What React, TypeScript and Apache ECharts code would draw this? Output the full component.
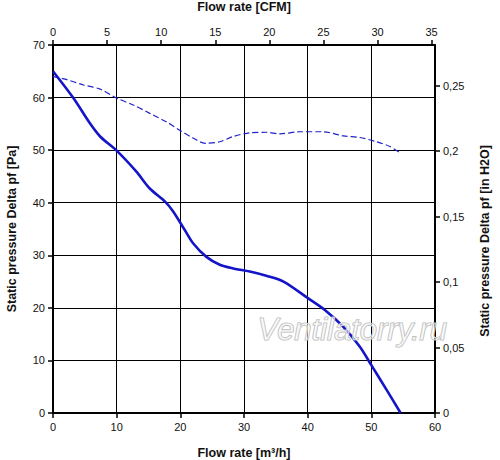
import React, { useEffect, useRef } from "react";
import * as echarts from "echarts";

const flowSolid = [0, 3.2, 5.8, 7.4, 10, 13.1, 15.2, 17.6, 18.9, 20.7, 22.0, 24.1, 26.2, 28.3, 30.9, 33.5, 36.2, 40.1, 42.7, 45.6, 48.2, 50.0, 52.4, 54.6];
const pressureSolid = [65, 59.9, 55.1, 52.6, 49.9, 45.9, 42.7, 40.2, 38.3, 34.8, 32.3, 29.7, 28.2, 27.5, 26.9, 26.1, 25.0, 21.8, 19.6, 16.4, 12.6, 9.1, 4.4, 0];
const flowDashed = [0, 1.9, 4.8, 7.4, 10, 12.6, 15.2, 17.8, 19.9, 22.0, 23.9, 26.2, 28.3, 30.9, 33.5, 35.6, 38.8, 42.4, 45.6, 48.2, 50.8, 52.9, 54.6];
const pressureDashed = [64, 63.5, 62.4, 61.6, 59.9, 58.6, 57.0, 55.4, 53.8, 52.3, 51.3, 51.6, 52.6, 53.3, 53.4, 53.1, 53.5, 53.5, 52.7, 52.4, 51.6, 50.7, 49.4];
const cfmInterval = 5;
const inH2OInterval = 0.05;

const M3H_PER_CFM = 1.699;
const PA_PER_INH2O = 249.089;

export default function App() {
  const ref = useRef<HTMLDivElement>(null);
  useEffect(() => {
    if (!ref.current) return;
    const chart = echarts.init(ref.current, null, { renderer: "svg" });
    const font = "'Liberation Sans', Arial, sans-serif";
    const mkLine = () => ({ show: true, onZero: false, lineStyle: { color: "#000", width: 2 } });
    const mkTick = () => ({ show: true, inside: false, length: 5, lineStyle: { color: "#000", width: 1.5 } });
    const label = { color: "#111", fontSize: 11, fontFamily: font };
    const nameStyle = { color: "#111", fontSize: 12.5, fontWeight: "bold" as const, fontFamily: font };
    const gridRect = { left: 53, right: 65, top: 45, bottom: 47, containLabel: false, outerBoundsMode: "none" };
    chart.setOption({
      animation: false,
      backgroundColor: "#fff",
      grid: [{ ...gridRect }, { ...gridRect }],
      xAxis: [
        {
          type: "value", gridIndex: 0, position: "bottom", min: 0, max: 60, interval: 10,
          name: "Flow rate [m³/h]", nameLocation: "middle", nameGap: 33, nameTextStyle: nameStyle,
          axisLine: mkLine(), axisTick: mkTick(), axisLabel: { ...label, margin: 8 },
          splitLine: { show: true, lineStyle: { color: "#000", width: 1 } },
        },
        {
          type: "value", gridIndex: 0, position: "top", min: 0, max: 60 / M3H_PER_CFM, interval: cfmInterval,
          name: "Flow rate [CFM]", nameLocation: "middle", nameGap: 32, nameTextStyle: nameStyle,
          axisLine: mkLine(), axisTick: mkTick(),
          axisLabel: { ...label, margin: 8, showMaxLabel: false },
          splitLine: { show: false },
        },
        {
          type: "value", gridIndex: 1, position: "bottom", min: 0, max: 60, show: false,
        },
      ],
      yAxis: [
        {
          type: "value", gridIndex: 0, position: "left", min: 0, max: 70, interval: 10,
          name: "Static pressure Delta pf [Pa]", nameLocation: "middle", nameGap: 35, nameRotate: 90,
          nameTextStyle: nameStyle,
          axisLine: mkLine(), axisTick: mkTick(), axisLabel: { ...label, margin: 8 },
          splitLine: { show: true, lineStyle: { color: "#000", width: 1 } },
        },
        {
          type: "value", gridIndex: 1, position: "right", min: 0, max: 70 / PA_PER_INH2O, interval: inH2OInterval,
          axisLine: mkLine(), axisTick: mkTick(),
          axisLabel: {
            ...label, margin: 8, showMaxLabel: false,
            formatter: (v: number) => String(Math.round(v * 100) / 100).replace(".", ","),
          },
          splitLine: { show: false },
        },
      ],
      series: [
        {
          type: "line", xAxisIndex: 0, yAxisIndex: 0, smooth: 0.3, showSymbol: false,
          data: flowDashed.map((x, i) => [x, pressureDashed[i]]),
          lineStyle: { color: "#2222c8", width: 1.2, type: [6, 3] },
          z: 3,
        },
        {
          type: "line", xAxisIndex: 0, yAxisIndex: 0, smooth: 0.3, showSymbol: false,
          data: flowSolid.map((x, i) => [x, pressureSolid[i]]),
          lineStyle: { color: "#1414c8", width: 2.6 },
          z: 4,
        },
      ],
      graphic: [
        {
          type: "text", x: 485, y: 241, rotation: Math.PI / 2, z: 100,
          style: {
            text: "Static pressure Delta pf [in H2O]", fontSize: 12.5, fontWeight: "bold", fontFamily: font,
            fill: "#111", align: "center", verticalAlign: "middle",
          },
        },
        {
          type: "text", left: 257, top: 313, z: 100,
          style: {
            text: "Ventilatorry.ru", fontSize: 31, fontStyle: "italic", fontFamily: font,
            fill: "rgba(255,255,255,0.55)", stroke: "#b8b8b8", lineWidth: 1.2,
          },
        },
      ],
    });
    return () => chart.dispose();
  }, []);
  return <div ref={ref} style={{ position: "fixed", left: 0, top: 0, width: 500, height: 460 }} />;
}
